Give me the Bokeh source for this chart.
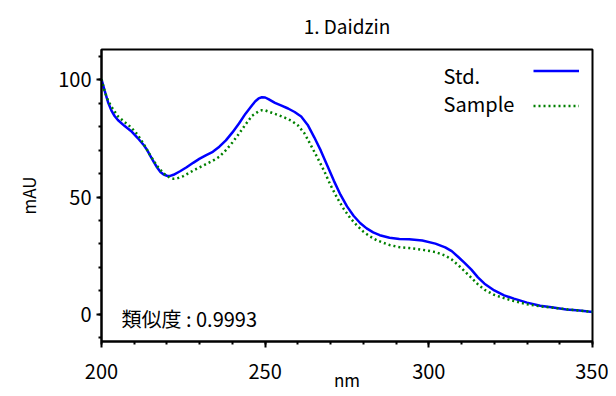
from bokeh.plotting import figure
from bokeh.models import (Range1d, SingleIntervalTicker, Label, Legend, LegendItem, Title)
from bokeh.embed import file_html
from bokeh.resources import INLINE

FONT = "Noto Sans CJK JP"

title_text = "1. Daidzin"
x_label = "nm"
y_label = "mAU"
similarity_text = "類似度 : 0.9993"
series_names = ["Std.", "Sample"]

std_nm = [200, 201, 202, 203, 204, 205, 207, 209, 211, 213, 214, 215, 216, 217, 218, 219, 220, 221, 222,
          224, 226, 228, 230, 232, 234, 236, 238, 240, 242, 244, 246, 247, 248, 249, 250, 251, 253, 255,
          257, 259, 261, 263, 265, 267, 269, 271, 273, 275, 277, 279, 281, 283, 285, 288, 291, 294, 298,
          302, 305, 307, 309, 311, 313, 315, 317, 320, 323, 326, 330, 334, 338, 342, 346, 350]
std_mau = [100.3, 95.2, 90.5, 87.0, 84.6, 82.9, 80.4, 78.2, 75.3, 72.0, 69.9, 67.4, 64.9, 62.6, 60.7, 59.6,
           59.1, 59.0, 59.5, 61.0, 62.7, 64.6, 66.4, 67.9, 69.3, 71.5, 74.2, 77.6, 81.4, 85.6, 89.2, 90.9,
           92.1, 92.6, 92.5, 91.8, 90.2, 89.0, 87.8, 86.3, 84.4, 80.8, 75.5, 69.8, 63.4, 56.9, 51.0, 46.0,
           42.0, 38.9, 36.6, 34.9, 33.7, 32.6, 32.1, 32.0, 31.4, 30.1, 28.5, 26.9, 24.4, 21.8, 19.0, 15.7,
           13.0, 10.1, 8.0, 6.6, 4.9, 3.6, 2.8, 2.0, 1.5, 0.9]

sample_nm = [200, 201, 202, 203, 205, 207, 209, 211, 213, 215, 217, 219, 221, 222, 223, 225, 227, 229, 232,
             234, 236, 238, 240, 242, 244, 246, 248, 249, 250, 252, 254, 256, 258, 260, 262, 264, 266, 268,
             270, 272, 274, 276, 278, 280, 282, 284, 286, 288, 291, 294, 298, 302, 305, 307, 309, 311, 313,
             315, 317, 320, 323, 326, 330, 334, 338, 342, 346, 350]
sample_mau = [100.3, 95.0, 91.2, 88.6, 84.5, 82.1, 79.8, 76.7, 72.4, 67.5, 63.2, 60.0, 58.1, 57.8, 57.9,
              58.9, 60.5, 62.0, 64.1, 65.5, 67.2, 70.0, 73.3, 77.0, 81.0, 84.7, 86.6, 87.1, 87.0, 86.0, 85.0,
              83.9, 82.6, 80.6, 77.2, 72.0, 66.7, 61.2, 55.0, 49.6, 44.9, 41.0, 37.9, 35.2, 33.2, 31.6, 30.5,
              29.5, 28.6, 28.2, 27.5, 26.5, 25.0, 23.3, 20.9, 18.2, 15.5, 12.7, 10.4, 8.2, 6.8, 5.6, 4.2, 3.3,
              2.7, 2.1, 1.5, 1.0]

p = figure(width=608, height=394, output_backend="svg", toolbar_location=None,
           x_range=Range1d(200, 350), y_range=Range1d(-11.7, 113.0),
           min_border_left=99, min_border_right=16, min_border_top=46, min_border_bottom=51)

p.title.text = title_text
p.title.align = "center"
p.title.vertical_align = "middle"
p.title.text_font = FONT
p.title.text_font_size = "19px"
p.title.text_font_style = "normal"
p.title.text_color = "black"
p.title.standoff = 20

p.xgrid.visible = False
p.ygrid.visible = False
p.outline_line_color = "black"
p.outline_line_width = 2
p.outline_line_alpha = 1
p.background_fill_color = "white"
p.border_fill_color = "white"

p.xaxis.ticker = SingleIntervalTicker(interval=50, num_minor_ticks=5)
p.yaxis.ticker = SingleIntervalTicker(interval=50, num_minor_ticks=5)
for ax in (p.xaxis[0], p.yaxis[0]):
    ax.axis_line_color = "black"
    ax.axis_line_width = 2
    ax.major_tick_line_color = "black"
    ax.major_tick_line_width = 2
    ax.minor_tick_line_color = "black"
    ax.minor_tick_line_width = 2
    ax.major_tick_in = 0
    ax.minor_tick_in = 0
    ax.major_label_text_font = FONT
    ax.major_label_text_font_size = "20px"
    ax.major_label_text_color = "black"
    ax.axis_label_text_font = FONT
    ax.axis_label_text_font_style = "normal"
    ax.axis_label_text_color = "black"
p.xaxis.major_tick_out = 6
p.xaxis.minor_tick_out = 3
p.xaxis.major_label_standoff = 16
p.xaxis.axis_label = x_label
p.xaxis.axis_label_text_font_size = "17px"
p.xaxis.axis_label_standoff = -15
p.yaxis.major_tick_out = 5
p.yaxis.minor_tick_out = 3
p.yaxis.major_label_standoff = 5

ytitle = Title(text=y_label, align="center", vertical_align="middle", offset=13,
               text_font=FONT, text_font_size="17px", text_font_style="normal",
               text_color="black", standoff=28)
p.add_layout(ytitle, "left")

std_r = p.line(std_nm, std_mau, line_color="#0000FF", line_width=2.5)
sam_r = p.line(sample_nm, sample_mau, line_color="#008000", line_width=2.5, line_dash="2 3")

legend = Legend(items=[LegendItem(label=" ", renderers=[std_r]),
                       LegendItem(label=" ", renderers=[sam_r])],
                location="top_right", margin=0, padding=13, spacing=18,
                glyph_width=46, glyph_height=17, label_width=0, label_height=17,
                label_standoff=0, label_text_font_size="1px",
                border_line_alpha=0, background_fill_alpha=0)
p.add_layout(legend)

for txt, yy in zip(series_names, [101.8, 89.9]):
    p.add_layout(Label(x=304.5, y=yy, text=txt, text_font=FONT, text_font_size="20px",
                       text_align="left", text_baseline="middle", text_color="black"))

p.add_layout(Label(x=206.1, y=-2.0, text=similarity_text, text_font=FONT, text_font_size="20px",
                   text_align="left", text_baseline="middle", text_color="black"))

open("out.html", "w").write(file_html(p, INLINE))
